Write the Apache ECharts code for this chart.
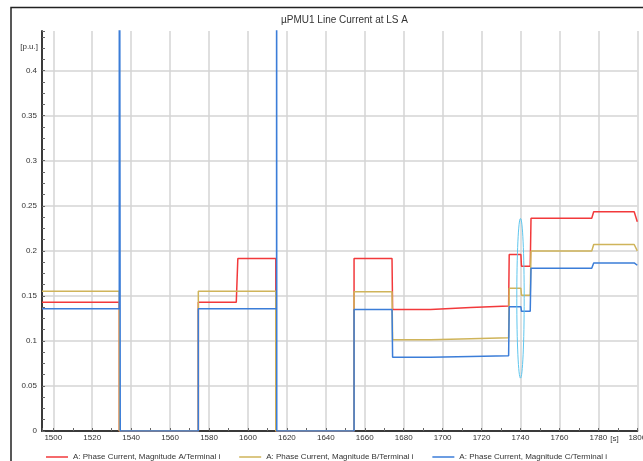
<!DOCTYPE html>
<html><head><meta charset="utf-8">
<script src="https://cdn.jsdelivr.net/npm/echarts@6/dist/echarts.min.js"></script>
<style>html,body{margin:0;padding:0;background:#fff}#c{width:643px;height:461px}</style>
</head><body><div id="c"></div>
<script>
// ---- data ----
const titleText = 'µPMU1 Line Current at LS A';
const yUnit = '[p.u.]';
const xUnit = '[s]';
const seriesNames = [
  'A: Phase Current, Magnitude A/Terminal i',
  'A: Phase Current, Magnitude B/Terminal i',
  'A: Phase Current, Magnitude C/Terminal i'
];
// polyline vertices: time [s] and value [p.u.]
const redT = [1494.2,1533.9,1533.9,1574.5,1574.5,1594.0,1594.8,1614.3,1614.3,1654.5,1654.5,1674.0,1674.3,1693.8,1694.6,1714.4,1715.2,1733.9,1734.2,1740.2,1740.5,1745.0,1745.4,1776.6,1777.6,1798.4,1800];
const redV = [0.143,0.143,0,0,0.143,0.143,0.1914,0.1914,0,0,0.1914,0.1914,0.135,0.135,0.137,0.137,0.1388,0.1388,0.1959,0.1959,0.1829,0.1829,0.2362,0.2362,0.2433,0.2433,0.2322];
const yelT = [1494.2,1533.9,1533.9,1574.5,1574.5,1614.3,1614.3,1654.5,1654.5,1674.0,1674.3,1693.8,1694.6,1714.4,1715.2,1733.9,1734.2,1740.2,1740.5,1745.0,1745.4,1776.6,1777.6,1798.4,1800];
const yelV = [0.155,0.155,0,0,0.155,0.155,0,0,0.1547,0.1547,0.1014,0.1014,0.1025,0.1025,0.1036,0.1036,0.1584,0.1584,0.1506,0.1506,0.1999,0.1999,0.207,0.207,0.1999];
const bluT = [1494.2,1533.9,1533.9,1534.4,1534.4,1574.5,1574.5,1614.7,1614.7,1614.8,1614.8,1654.5,1654.5,1674.0,1674.3,1693.8,1694.6,1714.4,1715.2,1733.9,1734.2,1740.2,1740.5,1745.0,1745.4,1776.6,1777.6,1798.4,1800];
const bluV = [0.1358,0.1358,1.0,1.0,0,0,0.1358,0.1358,1.0,1.0,0,0,0.135,0.135,0.082,0.082,0.0828,0.0828,0.0835,0.0835,0.138,0.138,0.1328,0.1328,0.1806,0.1806,0.1866,0.1866,0.184];
// highlight ellipse: centre time, centre value, half-width [s], half-height [p.u.]
const ellipseMark = [1740, 0.1473, 1.9, 0.0886];
const xMin = 1494.2, xMax = 1800, yMin = 0, yMax = 0.444;
const xStep = 20, xMinorStep = 10, yStep = 0.05, yMinorStep = 0.0125;
const colors = ['#f2393b', '#cfb45a', '#3b7dd8'];

const zip = (t, v) => t.map((x, i) => [x, v[i]]);
const FONT = '"Liberation Sans", Arial, sans-serif';
const GRID = {left: 42, right: 5.7, top: 31, bottom: 30, containLabel: false, outerBoundsMode: 'none'};

const chart = echarts.init(document.getElementById('c'), null, {renderer: 'canvas'});
const lineSeries = [[redT, redV], [yelT, yelV], [bluT, bluV]].map((d, i) => ({
  name: seriesNames[i], type: 'line', data: zip(d[0], d[1]), xAxisIndex: 0, yAxisIndex: 0,
  showSymbol: false, symbol: 'none', clip: true,
  lineStyle: {color: colors[i], width: 1.5}, itemStyle: {color: colors[i]},
  emphasis: {disabled: true}, z: 3 + i
}));

const tickStyle = {show: true, inside: true, length: 3, lineStyle: {color: '#666', width: 1}};

chart.setOption({
  animation: false,
  backgroundColor: '#fff',
  textStyle: {fontFamily: FONT},
  grid: [Object.assign({}, GRID), Object.assign({}, GRID)],
  xAxis: [{
    type: 'value', gridIndex: 0, min: xMin, max: xMax, minInterval: xStep, maxInterval: xStep,
    axisLine: {show: true, onZero: false, lineStyle: {color: '#3a3a3a', width: 2}},
    axisTick: {show: false},
    axisLabel: {showMinLabel: false, fontSize: 8, color: '#333', margin: 3, fontFamily: FONT,
      hideOverlap: false, formatter: v => String(Math.round(v))},
    splitLine: {show: true, lineStyle: {color: '#d4d4d4', width: 1.5}}
  }, {
    type: 'value', gridIndex: 1, min: xMin, max: xMax, minInterval: xMinorStep, maxInterval: xMinorStep,
    axisLine: {show: false}, axisTick: tickStyle, axisLabel: {show: false}, splitLine: {show: false}
  }],
  yAxis: [{
    type: 'value', gridIndex: 0, min: yMin, max: yMax, interval: yStep,
    axisLine: {show: true, lineStyle: {color: '#3a3a3a', width: 2}},
    axisTick: {show: false},
    axisLabel: {showMaxLabel: false, fontSize: 8, color: '#333', margin: 5, fontFamily: FONT},
    splitLine: {show: true, showMaxLine: false, lineStyle: {color: '#d4d4d4', width: 1.5}}
  }, {
    type: 'value', gridIndex: 1, min: yMin, max: yMax, interval: yMinorStep,
    axisLine: {show: false}, axisTick: tickStyle, axisLabel: {show: false}, splitLine: {show: false}
  }],
  legend: {
    data: seriesNames, left: 41, top: 448, icon: 'rect', itemWidth: 22, itemHeight: 1.5,
    itemGap: 19, textStyle: {fontSize: 8, color: '#333', fontFamily: FONT}, selectedMode: false
  },
  graphic: [
    {type: 'polyline', shape: {points: [[11, 461], [11, 7.5], [643, 7.5]]}, style: {stroke: '#222', lineWidth: 1.5, fill: null}, silent: true},
    {type: 'text', x: 344.5, y: 20.5, style: {text: titleText, font: '10px ' + FONT, fill: '#333', textAlign: 'center', textVerticalAlign: 'middle'}, silent: true},
    {type: 'text', x: 38, y: 47, style: {text: yUnit, font: '8px ' + FONT, fill: '#333', textAlign: 'right', textVerticalAlign: 'middle'}, silent: true},
    {type: 'text', x: 614.5, y: 438.5, style: {text: xUnit, font: '8px ' + FONT, fill: '#333', textAlign: 'center', textVerticalAlign: 'middle'}, silent: true}
  ],
  series: lineSeries.concat([{
    type: 'custom', name: 'highlight', data: [ellipseMark], xAxisIndex: 0, yAxisIndex: 0,
    encode: {x: 0, y: 1}, silent: true, z: 10,
    renderItem: function (params, api) {
      const c = api.coord([api.value(0), api.value(1)]);
      const e = api.coord([api.value(0) + api.value(2), api.value(1) + api.value(3)]);
      return {type: 'ellipse', shape: {cx: c[0], cy: c[1], rx: Math.abs(e[0] - c[0]), ry: Math.abs(c[1] - e[1])},
        style: {fill: null, stroke: '#5ec6ee', lineWidth: 1}};
    }
  }])
});
</script></body></html>
